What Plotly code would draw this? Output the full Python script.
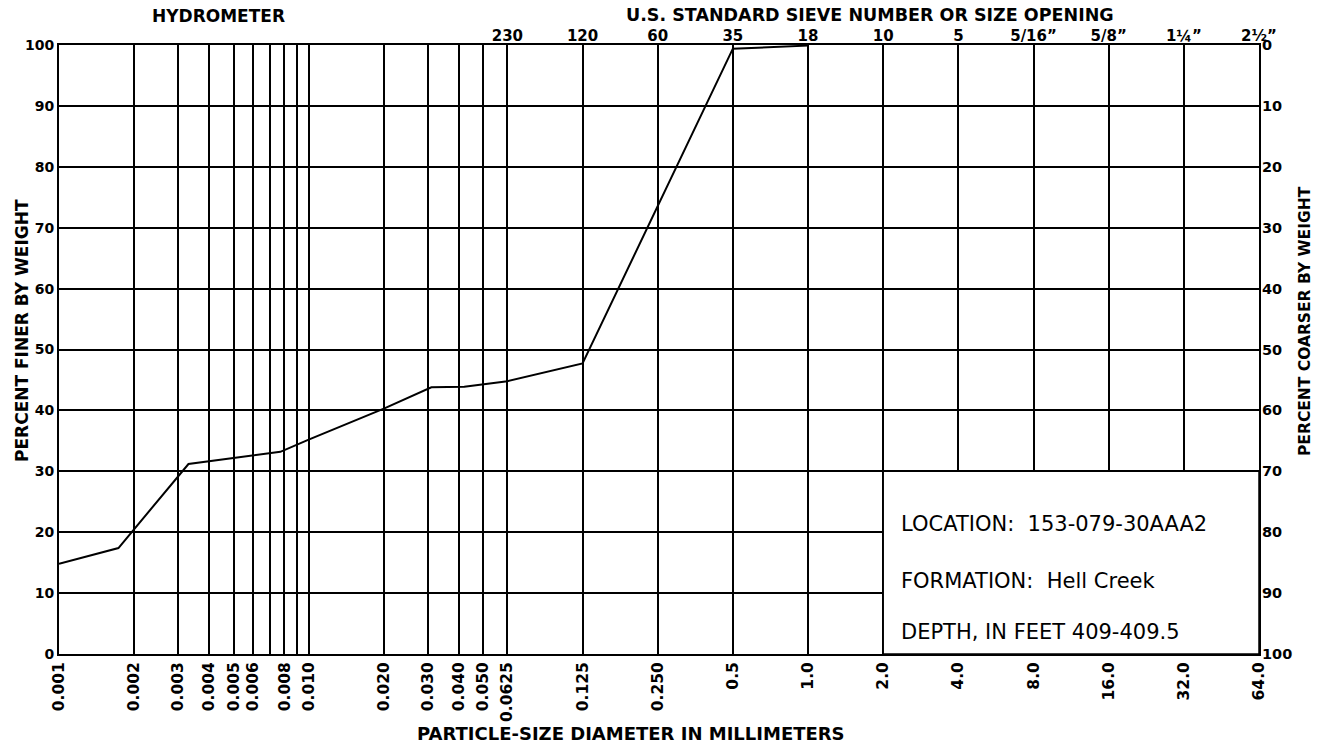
import numpy as np
import plotly.graph_objects as go

# Grain-size distribution curve (particle diameter in mm vs percent finer)
diameter_mm = [0.001, 0.00173, 0.0033, 0.0050, 0.0077, 0.010, 0.020, 0.031, 0.042, 0.0625, 0.125, 0.5, 1.0]
percent_finer = [14.8, 17.4, 31.2, 32.2, 33.2, 35.2, 40.3, 43.8, 43.9, 44.8, 47.7, 99.4, 99.9]

# Bottom axis: grid lines and their labels (blank labels for unlabeled lines)
grid_sizes = [0.001, 0.002, 0.003, 0.004, 0.005, 0.006, 0.007, 0.008, 0.009, 0.010,
              0.020, 0.030, 0.040, 0.050, 0.0625, 0.125, 0.250, 0.5, 1.0, 2.0,
              4.0, 8.0, 16.0, 32.0, 64.0]
grid_labels = ["0.001", "0.002", "0.003", "0.004", "0.005", "0.006", "", "0.008", "", "0.010",
               "0.020", "0.030", "0.040", "0.050", "0.0625", "0.125", "0.250", "0.5", "1.0", "2.0",
               "4.0", "8.0", "16.0", "32.0", "64.0"]

# Top axis: U.S. standard sieve numbers / size openings
sieve_sizes = [0.0625, 0.125, 0.25, 0.5, 1.0, 2.0, 4.0, 8.0, 16.0, 32.0, 64.0]
sieve_labels = ["230", "120", "60", "35", "18", "10", "5", "5/16\u201d", "5/8\u201d", "1\u00bc\u201d", "2\u00bd\u201d"]

percent_ticks = [0, 10, 20, 30, 40, 50, 60, 70, 80, 90, 100]

sample_info = ["LOCATION:  153-079-30AAA2", "FORMATION:  Hell Creek", "DEPTH, IN FEET 409-409.5"]
info_rows = [21.3, 12.0, 3.6]

BOLD = dict(family="DejaVu Sans", color="black", weight="bold")
xr = [np.log10(0.001), np.log10(64.0)]

# Plot-area geometry in pixels (used to place headings in paper coordinates)
L, R, T, B = 59, 1259, 45, 654
PW, PH = R - L, B - T


def px_x(px):
    return (px - L) / PW


def px_y(py):
    return (B - py) / PH


fig = go.Figure()
fig.add_trace(go.Scatter(x=diameter_mm, y=percent_finer, mode="lines",
                         line=dict(color="black", width=2), showlegend=False,
                         hoverinfo="skip"))
# Hidden traces so the secondary axes are laid out
fig.add_trace(go.Scatter(x=[1.0], y=[50], xaxis="x2", yaxis="y", mode="markers",
                         marker=dict(opacity=0), showlegend=False, hoverinfo="skip"))
fig.add_trace(go.Scatter(x=[1.0], y=[50], xaxis="x", yaxis="y2", mode="markers",
                         marker=dict(opacity=0), showlegend=False, hoverinfo="skip"))

fig.update_layout(
    width=1317, height=744,
    margin=dict(l=L, r=1317 - R, t=T, b=744 - B, autoexpand=False),
    paper_bgcolor="white", plot_bgcolor="white",
    xaxis=dict(type="log", range=xr, tickmode="array", tickvals=grid_sizes,
               ticktext=grid_labels, tickangle=-90, ticks="", showgrid=True,
               gridcolor="black", gridwidth=1.5, zeroline=False, automargin=False,
               showline=True, linecolor="black", linewidth=2, mirror=True,
               tickfont=dict(size=15.5, **BOLD)),
    xaxis2=dict(type="log", range=xr, overlaying="x", side="top", anchor="y",
                tickmode="array", tickvals=sieve_sizes, ticktext=sieve_labels,
                ticks="", showgrid=False, zeroline=False, showline=False, automargin=False,
                ticklabelstandoff=0, tickfont=dict(size=15, **BOLD)),
    yaxis=dict(range=[0, 100], tickmode="array", tickvals=percent_ticks, ticks="",
               showgrid=True, gridcolor="black", gridwidth=1.5, zeroline=False,
               showline=True, linecolor="black", linewidth=2, mirror=True, automargin=False,
               ticklabelstandoff=0, tickfont=dict(size=14, **BOLD)),
    yaxis2=dict(range=[100, 0], overlaying="y", side="right", anchor="x",
                tickmode="array", tickvals=percent_ticks, ticks="", showgrid=False,
                zeroline=False, showline=False, automargin=False,
                ticklabelstandoff=2, tickfont=dict(size=14.5, **BOLD)),
)

# Sample information box in the lower-right corner of the grid
fig.add_shape(type="rect", xref="x", yref="y", x0=2.0, x1=64.0, y0=0, y1=30,
              fillcolor="white", line=dict(color="black", width=1.5), layer="above")

for line, row in zip(sample_info, info_rows):
    fig.add_annotation(x=np.log10(2.0), y=row, xref="x", yref="y",
                       text=line, showarrow=False, xanchor="left", yanchor="middle", xshift=16,
                       font=dict(family="DejaVu Sans", size=21, color="black"))

# Headings around the grid
headings = [
    ("HYDROMETER", 218, 16, 0, 17),
    ("U.S. STANDARD SIEVE NUMBER OR SIZE OPENING", 870, 15, 0, 17.5),
    ("PARTICLE-SIZE DIAMETER IN MILLIMETERS", 631, 733, 0, 18),
    ("PERCENT FINER BY WEIGHT", 22, 331, -90, 17),
    ("PERCENT COARSER BY WEIGHT", 1305, 321, -90, 15.5),
]
for text, hx, hy, ang, size in headings:
    fig.add_annotation(x=px_x(hx), y=px_y(hy), xref="paper", yref="paper", text=text,
                       showarrow=False, xanchor="center", yanchor="middle", textangle=ang,
                       font=dict(size=size, **BOLD))

fig.write_html("out.html")
